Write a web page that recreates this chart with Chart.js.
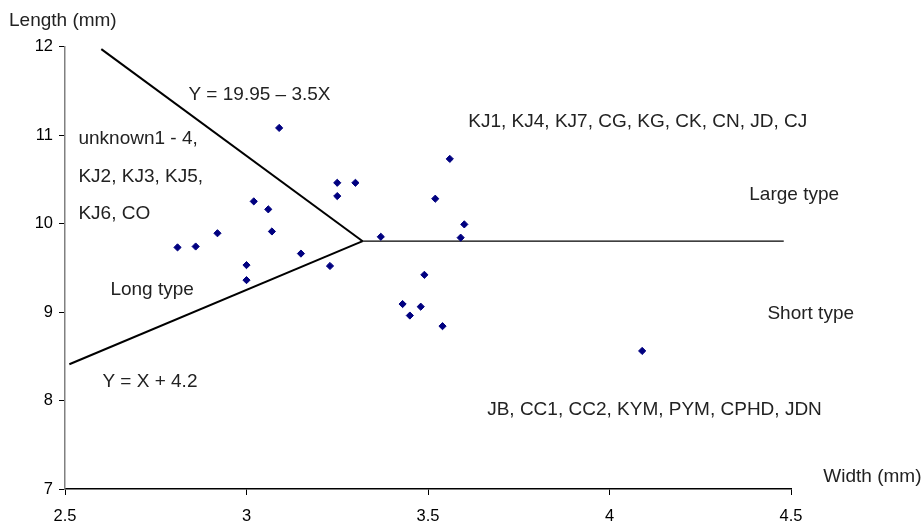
<!DOCTYPE html>
<html>
<head>
<meta charset="utf-8">
<script src="https://cdn.jsdelivr.net/npm/chart.js@4.4.1/dist/chart.umd.min.js"></script>
<style>
    html, body { margin: 0; padding: 0; background: #fff; }
    #wrap { width: 924px; height: 522px; }
</style>
</head>
<body>
<div id="wrap"><canvas id="chart"></canvas></div>
<script>
// samples: width (mm), length (mm)
const widths = [3.09, 3.25, 3.30, 3.25, 3.02, 3.06, 3.07, 2.92, 2.81, 2.86, 3.15, 3.00, 3.23, 3.00,
    3.37, 3.56, 3.52, 3.60, 3.59, 3.49, 3.43, 3.48, 3.45, 3.54, 4.09];
const lengths = [11.08, 10.46, 10.46, 10.31, 10.25, 10.16, 9.91, 9.89, 9.73, 9.74, 9.66, 9.53, 9.52, 9.36,
    9.85, 10.73, 10.28, 9.99, 9.84, 9.42, 9.09, 9.06, 8.96, 8.84, 8.56];

// boundary lines as drawn
const upperLineX = [2.6, 3.32];
const upperLineY = [11.97, 9.8];
const lowerLineX = [2.512, 3.32];
const lowerLineY = [8.41, 9.8];
const flatLineX = [3.32, 4.48];
const flatLineY = [9.8, 9.8];

const xTicks = [2.5, 3, 3.5, 4, 4.5];
const yTicks = [7, 8, 9, 10, 11, 12];

// annotation texts and where they sit (data units)
const noteTexts = ['Y = 19.95 \u2013 3.5X', 'unknown1 - 4,', 'KJ2, KJ3, KJ5,', 'KJ6, CO',
    'KJ1, KJ4, KJ7, CG, KG, CK, CN, JD, CJ', 'Large type', 'Long type', 'Short type',
    'Y = X + 4.2', 'JB, CC1, CC2, KYM, PYM, CPHD, JDN', 'Width (mm)'];
const noteX = [2.84, 2.537, 2.537, 2.537, 3.611, 4.385, 2.625, 4.435, 2.603, 3.663, 4.589];
const noteY = [11.45, 10.96, 10.53, 10.11, 11.15, 10.32, 9.25, 8.98, 8.21, 7.89, 7.14];

const toPoints = (xs, ys) => xs.map((x, i) => ({ x: x, y: ys[i] }));

const lineStyle = (w) => ({
    showLine: true,
    borderColor: '#000',
    borderWidth: w,
    pointRadius: 0,
    pointHoverRadius: 0,
    fill: false,
});

const notesPlugin = {
    id: 'notes',
    afterDraw(chart) {
        const ctx = chart.ctx;
        const xs = chart.scales.x;
        const ys = chart.scales.y;
        ctx.save();
        ctx.fillStyle = '#222';
        ctx.font = '19px "Liberation Sans", Arial, sans-serif';
        ctx.textBaseline = 'middle';
        ctx.textAlign = 'left';
        noteTexts.forEach((t, i) => {
            ctx.fillText(t, xs.getPixelForValue(noteX[i]), ys.getPixelForValue(noteY[i]));
        });
        ctx.fillText('Length (mm)', 9, chart.chartArea.top - 26);
        ctx.restore();
    },
};

new Chart(document.getElementById('chart'), {
    type: 'scatter',
    data: {
        datasets: [
            {
                data: toPoints(widths, lengths),
                pointStyle: 'rectRot',
                pointRadius: 3.6,
                pointHoverRadius: 3.6,
                backgroundColor: '#000080',
                borderColor: '#000080',
                borderWidth: 1,
            },
            Object.assign({ data: toPoints(upperLineX, upperLineY) }, lineStyle(2)),
            Object.assign({ data: toPoints(lowerLineX, lowerLineY) }, lineStyle(2)),
            Object.assign({ data: toPoints(flatLineX, flatLineY) }, lineStyle(1.3)),
        ],
    },
    options: {
        responsive: true,
        maintainAspectRatio: false,
        animation: false,
        layout: { padding: { top: 46.5, right: 133, left: 0, bottom: 0 } },
        plugins: {
            legend: { display: false },
            tooltip: { enabled: false },
        },
        scales: {
            x: {
                type: 'linear',
                min: 2.5,
                max: 4.5,
                afterBuildTicks: (s) => { s.ticks = xTicks.map(v => ({ value: v })); },
                afterFit: (s) => { s.height = 33; },
                border: { color: '#000', width: 1.5 },
                grid: { drawOnChartArea: false, drawTicks: true, tickLength: 6, color: '#000' },
                ticks: {
                    color: '#000',
                    padding: 12,
                    font: { family: '"Liberation Sans", Arial, sans-serif', size: 16.5 },
                    callback: (v) => String(v),
                },
            },
            y: {
                type: 'linear',
                min: 7,
                max: 12,
                afterBuildTicks: (s) => { s.ticks = yTicks.map(v => ({ value: v })); },
                afterFit: (s) => { s.width = 65; },
                border: { color: '#808080', width: 1.5 },
                grid: { drawOnChartArea: false, drawTicks: true, tickLength: 6, color: '#000' },
                ticks: {
                    color: '#000',
                    padding: 6,
                    font: { family: '"Liberation Sans", Arial, sans-serif', size: 16.5 },
                    callback: (v) => String(v),
                },
            },
        },
    },
    plugins: [notesPlugin],
});
</script>
</body>
</html>
